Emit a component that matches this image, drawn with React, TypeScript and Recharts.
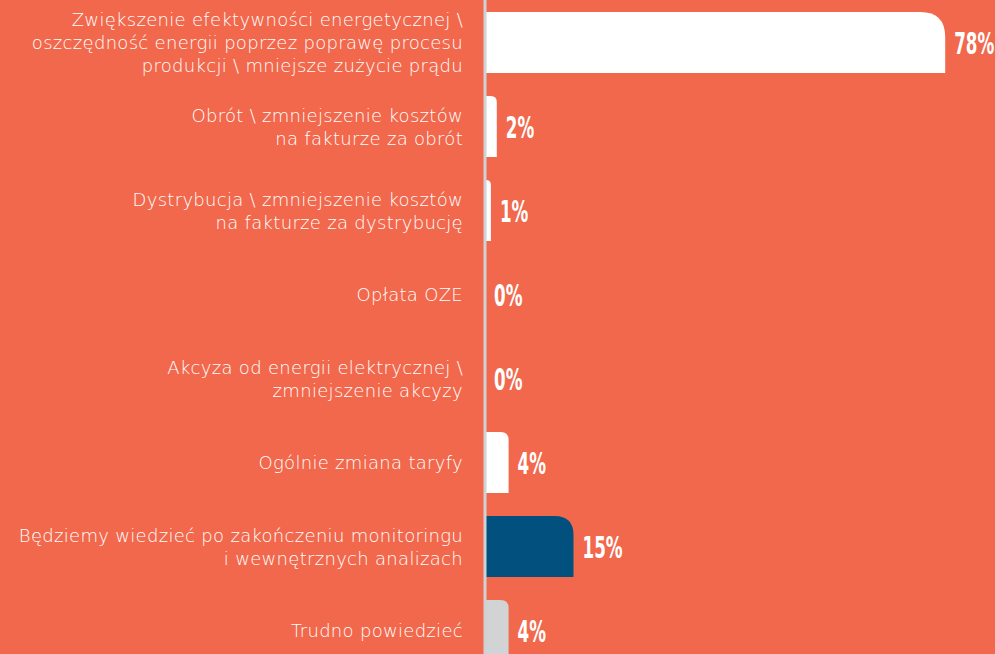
import React from 'react';
import { BarChart, Bar, XAxis, YAxis, Cell, LabelList } from 'recharts';

const categories: string[] = [
  'Zwiększenie efektywności energetycznej \\\noszczędność energii poprzez poprawę procesu\nprodukcji \\ mniejsze zużycie prądu',
  'Obrót \\ zmniejszenie kosztów\nna fakturze za obrót',
  'Dystrybucja \\ zmniejszenie kosztów\nna fakturze za dystrybucję',
  'Opłata OZE',
  'Akcyza od energii elektrycznej \\\nzmniejszenie akcyzy',
  'Ogólnie zmiana taryfy',
  'Będziemy wiedzieć po zakończeniu monitoringu\ni wewnętrznych analizach',
  'Trudno powiedzieć',
];
const values: number[] = [78, 2, 1, 0, 0, 4, 15, 4];
const barColors: string[] = ['#FFFFFF', '#FFFFFF', '#FFFFFF', '#FFFFFF', '#FFFFFF', '#FFFFFF', '#02507E', '#D1D3D4'];

const data = categories.map((name, i) => ({ name, value: values[i] }));

const BG = '#F2684C';

const CategoryTick = (props: any) => {
  const { x, y, payload } = props;
  const lines: string[] = String(payload.value).split('\n');
  const lh = 23;
  const start = -((lines.length - 1) / 2) * lh;
  return (
    <text
      x={x}
      y={y}
      textAnchor="end"
      fill="#FFFFFF"
      fontFamily="'DejaVu Sans', sans-serif"
      fontWeight={300}
      fontSize={18}
      letterSpacing={0.3}
    >
      {lines.map((l, i) => (
        <tspan key={i} x={x} y={y + start + i * lh} dy="0.4em">
          {l}
        </tspan>
      ))}
    </text>
  );
};

const RoundedBar = (props: any) => {
  const { x, y, width, height, fill } = props;
  if (!width || width <= 0) return null;
  const r = Math.min(25, 4 + width * 0.17, width, height / 2);
  const d = `M${x},${y} L${x + width - r},${y} Q${x + width},${y} ${x + width},${y + r} L${x + width},${y + height} L${x},${y + height} Z`;
  return <path d={d} fill={fill} />;
};

const ValueLabel = (props: any) => {
  const { x, y, width, height, value } = props;
  const tx = Number(x) + Number(width) + 9;
  const ty = Number(y) + Number(height) / 2;
  return (
    <text
      transform={`translate(${tx},${ty}) scale(0.6,1)`}
      x={0}
      y={0}
      dy="0.36em"
      fill="#FFFFFF"
      fontFamily="'Liberation Sans Narrow', 'DejaVu Sans Condensed', sans-serif"
      fontWeight="bold"
      fontSize={31}
    >
      {value}%
    </text>
  );
};

export default function App() {
  return (
    <div
      style={{
        position: 'fixed',
        top: 0,
        left: 0,
        width: 995,
        height: 654,
        overflow: 'hidden',
        background: BG,
      }}
    >
      <BarChart
        width={995}
        height={672}
        data={data}
        layout="vertical"
        margin={{ top: 0, right: 38, bottom: 0, left: 0 }}
      >
        <XAxis type="number" domain={[0, 80]} hide />
        <YAxis
          type="category"
          dataKey="name"
          width={485}
          tickLine={false}
          tickSize={0}
          tickMargin={22}
          axisLine={{ stroke: '#CFD2D4', strokeWidth: 3 }}
          tick={<CategoryTick />}
          interval={0}
        />
        <Bar dataKey="value" barSize={61} isAnimationActive={false} shape={<RoundedBar />}>
          {data.map((_, i) => (
            <Cell key={i} fill={barColors[i]} />
          ))}
          <LabelList dataKey="value" content={<ValueLabel />} />
        </Bar>
      </BarChart>
    </div>
  );
}
